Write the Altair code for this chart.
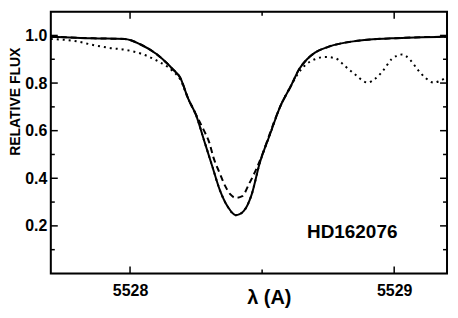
import altair as alt
import pandas as pd

# ---- data ----
wl_solid = [5527.70, 5527.86, 5527.98, 5528.04, 5528.10, 5528.14, 5528.16, 5528.19,
            5528.22, 5528.25, 5528.28, 5528.31, 5528.34, 5528.37, 5528.40, 5528.43,
            5528.46, 5528.49, 5528.53, 5528.57, 5528.61, 5528.64, 5528.67, 5528.70,
            5528.75, 5528.87, 5528.99, 5529.20]
flux_solid = [0.995, 0.988, 0.985, 0.962, 0.922, 0.883, 0.86, 0.822,
              0.735, 0.665, 0.56, 0.455, 0.35, 0.28, 0.245, 0.262,
              0.33, 0.46, 0.585, 0.705, 0.79, 0.858, 0.9, 0.928,
              0.952, 0.979, 0.988, 0.995]

wl_dashed = [5527.70, 5527.86, 5527.98, 5528.04, 5528.10, 5528.14, 5528.16, 5528.19,
             5528.22, 5528.25, 5528.28, 5528.30, 5528.315, 5528.34, 5528.36, 5528.38,
             5528.40, 5528.425, 5528.45, 5528.48, 5528.505, 5528.525, 5528.57, 5528.61,
             5528.64, 5528.67, 5528.70, 5528.75, 5528.87, 5528.99, 5529.20]
flux_dashed = [0.995, 0.988, 0.985, 0.962, 0.922, 0.883, 0.86, 0.822,
               0.735, 0.667, 0.60, 0.55, 0.49, 0.42, 0.368, 0.332,
               0.318, 0.325, 0.375, 0.444, 0.512, 0.575, 0.705, 0.79,
               0.858, 0.9, 0.928, 0.952, 0.979, 0.988, 0.995]

wl_dotted = [5527.70, 5527.80, 5527.86, 5527.92, 5527.98, 5528.04, 5528.10, 5528.16,
             5528.19, 5528.22, 5528.25, 5528.28, 5528.31, 5528.34, 5528.37, 5528.40,
             5528.43, 5528.46, 5528.49, 5528.53, 5528.57, 5528.61, 5528.63, 5528.66,
             5528.70, 5528.74, 5528.78, 5528.81, 5528.85, 5528.90, 5528.93, 5528.96,
             5528.99, 5529.03, 5529.06, 5529.09, 5529.12, 5529.15, 5529.17, 5529.20]
flux_dotted = [0.985, 0.975, 0.96, 0.948, 0.94, 0.924, 0.895, 0.852,
               0.815, 0.735, 0.665, 0.56, 0.455, 0.35, 0.28, 0.245,
               0.262, 0.33, 0.46, 0.585, 0.705, 0.79, 0.83, 0.872,
               0.90, 0.91, 0.903, 0.875, 0.838, 0.802, 0.82, 0.855,
               0.90, 0.92, 0.898, 0.855, 0.82, 0.802, 0.808, 0.825]

x_labels = [5528, 5529]
x_major = [5528, 5529]
x_minor = [5528.5]
y_labels = [0.2, 0.4, 0.6, 0.8, 1.0]
y_major = [0.2, 0.4, 0.6, 0.8, 1.0]
y_minor = [0.1, 0.3, 0.5, 0.7, 0.9]

star_label = ["HD162076"]
star_x = [5528.67]
star_y = [0.15]

X_DOM = [5527.7, 5529.2]
Y_DOM = [0.0, 1.1]
W, H = 398, 263
MAJ, MIN = 7, 4
FONT = "Liberation Sans"

xs = alt.Scale(domain=X_DOM, nice=False, zero=False)
ys = alt.Scale(domain=Y_DOM, nice=False, zero=False)

df_s = pd.DataFrame({"wl": wl_solid, "flux": flux_solid})
df_d = pd.DataFrame({"wl": wl_dashed, "flux": flux_dashed})
df_o = pd.DataFrame({"wl": wl_dotted, "flux": flux_dotted})
df_t = pd.DataFrame({"label": star_label, "wl": star_x, "flux": star_y})

x_axis = alt.Axis(values=x_labels, format="d", ticks=False, domain=False, grid=False,
                  labelFont=FONT, labelFontSize=16, labelFontWeight="bold",
                  labelColor="black", labelPadding=9, title="λ (A)", titleFont=FONT,
                  titleFontSize=20, titleFontWeight="bold", titleColor="black",
                  titleY=30, titleX=219, titleBaseline="alphabetic", titleAlign="center")
y_axis = alt.Axis(values=y_labels, format=".1f", ticks=False, domain=False, grid=False,
                  labelFont=FONT, labelFontSize=16, labelFontWeight="bold",
                  labelColor="black", labelPadding=4, title="RELATIVE FLUX",
                  titleFont=FONT, titleFontSize=14, titleFontWeight="bold",
                  titleColor="black", titlePadding=2, titleY=90)

X_ENC = alt.X("wl:Q", scale=xs, axis=x_axis)
Y_ENC = alt.Y("flux:Q", scale=ys, axis=y_axis)

solid = alt.Chart(df_s).mark_line(color="black", strokeWidth=2, interpolate="monotone",
                                  clip=True).encode(x=X_ENC, y=Y_ENC)
dashed = alt.Chart(df_d).mark_line(color="black", strokeWidth=2, strokeDash=[6, 4],
                                   interpolate="monotone", clip=True).encode(x=X_ENC, y=Y_ENC)
dotted = alt.Chart(df_o).mark_line(color="black", strokeWidth=2, strokeDash=[2, 4],
                                   interpolate="monotone", clip=True).encode(x=X_ENC, y=Y_ENC)
label = alt.Chart(df_t).mark_text(align="left", baseline="alphabetic", font=FONT,
                                  fontSize=19, fontWeight="bold", color="black").encode(
    x=X_ENC, y=Y_ENC, text="label:N",
)


def yticks(vals, x0, x1):
    return alt.Chart(pd.DataFrame({"flux": vals})).mark_rule(
        color="black", strokeWidth=1.5).encode(
        y=Y_ENC, x=alt.value(x0), x2=alt.value(x1))


def xticks(vals, y0, y1):
    return alt.Chart(pd.DataFrame({"wl": vals})).mark_rule(
        color="black", strokeWidth=1.5).encode(
        x=X_ENC, y=alt.value(y0), y2=alt.value(y1))


tick_layers = [
    yticks(y_major, 0, MAJ), yticks(y_minor, 0, MIN),
    yticks(y_major, W - MAJ, W), yticks(y_minor, W - MIN, W),
    xticks(x_major, H - MAJ, H), xticks(x_minor, H - MIN, H),
    xticks(x_major, 0, MAJ), xticks(x_minor, 0, MIN),
]

frame = alt.Chart(alt.Data(values=[{"f": 1}])).mark_rect(
    fill="white", fillOpacity=0, stroke="black", strokeWidth=2
).encode(
    x=alt.value(0), x2=alt.value(W), y=alt.value(0), y2=alt.value(H)
)

chart = alt.layer(solid, dashed, dotted, label, *tick_layers, frame).properties(
    width=W, height=H,
    padding={"left": 0, "top": 2, "right": 2, "bottom": 0},
).configure_view(
    strokeWidth=0
).configure(background="white")

chart.save("out.html", embed_options={"renderer": "svg", "actions": False})
